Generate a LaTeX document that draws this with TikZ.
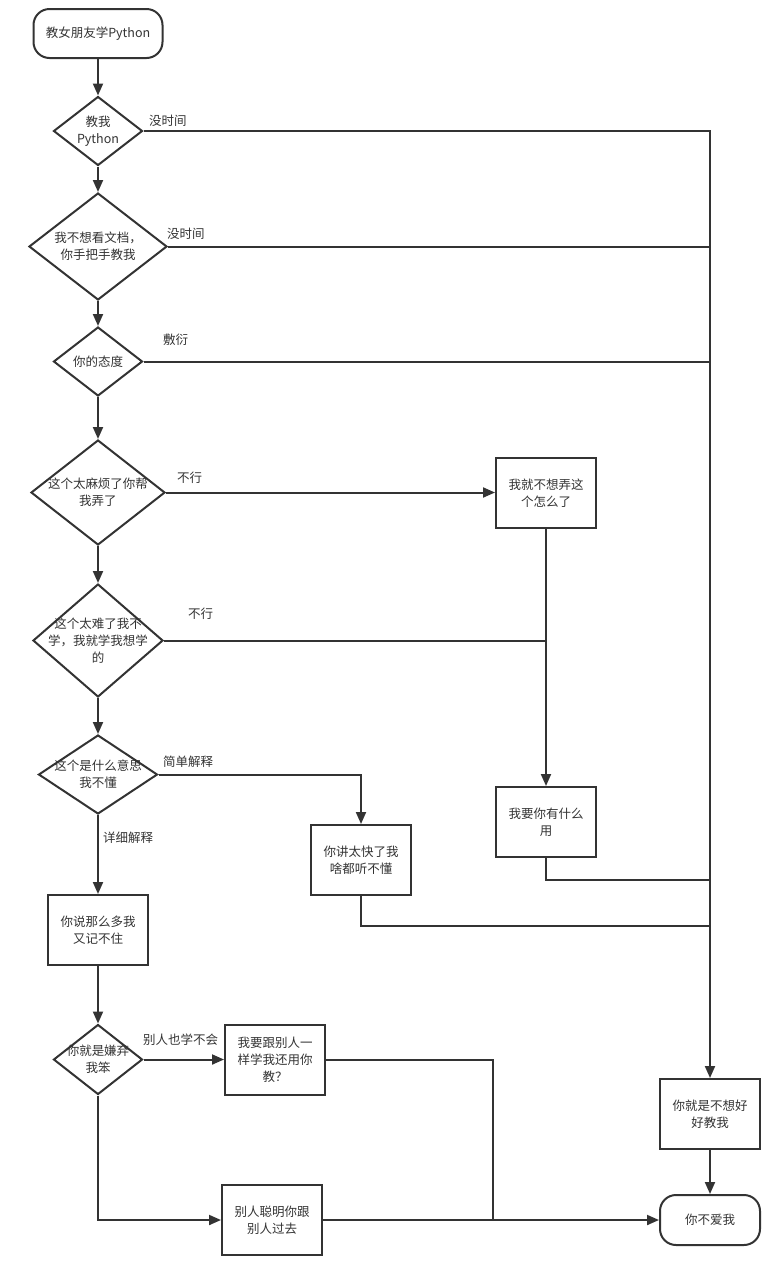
\documentclass[tikz,border=0pt]{standalone}
\usepackage{fontspec}
\setmainfont{Noto Sans CJK SC}
\usetikzlibrary{shapes.geometric,arrows.meta}
\definecolor{ink}{HTML}{333333}
\begin{document}
\begin{tikzpicture}[x=1pt,y=-1pt,
 every node/.style={font=\fontsize{12.5}{17}\selectfont, text=ink},
 box/.style={draw=ink, line width=2pt, rectangle, minimum width=100pt, minimum height=70pt, align=center, inner sep=0pt},
 term/.style={draw=ink, line width=2pt, rectangle, rounded corners=16pt, minimum width=100pt, minimum height=50pt, align=center, inner sep=0pt},
 dia/.style={draw=ink, line width=2pt, diamond, inner sep=0pt},
 txt/.style={align=center, inner sep=0pt},
 lbl/.style={anchor=west, inner sep=0pt},
 conn/.style={draw=ink, line width=2pt},
 arr/.style={conn, -{Triangle[length=12pt,width=10pt]}}
]
\useasboundingbox (0,0) rectangle (768,1270);

% nodes
\node[term, minimum width=129pt, minimum height=49pt] (start) at (98,33.5) {教女朋友学Python};
\node[dia, minimum width=89pt, minimum height=69pt] (d1) at (98,131) {};
\node[txt] at (d1) {教我\\Python};
\node[dia, minimum width=138pt, minimum height=107pt] (d2) at (98,246.5) {};
\node[txt] at (d2) {我不想看文档，\\你手把手教我};
\node[dia, minimum width=89pt, minimum height=69pt] (d3) at (98,361.5) {};
\node[txt] at (d3) {你的态度};
\node[dia, minimum width=134pt, minimum height=105pt] (d4) at (98,492.5) {};
\node[txt] at (d4) {这个太麻烦了你帮\\我弄了};
\node[dia, minimum width=130pt, minimum height=113pt] (d5) at (98,640.5) {};
\node[txt] at (d5) {这个太难了我不\\学，我就学我想学\\的};
\node[dia, minimum width=119pt, minimum height=79pt] (d6) at (98,774.5) {};
\node[txt] at (d6) {这个是什么意思\\我不懂};
\node[box] (jizhu) at (98,930) {你说那么多我\\又记不住};
\node[dia, minimum width=89pt, minimum height=70pt] (d7) at (98,1059.5) {};
\node[txt] at (d7) {你就是嫌弃\\我笨};
\node[box] (gen) at (275,1059.5) {我要跟别人一\\样学我还用你\\教？};
\node[box] (guoqu) at (272,1220) {别人聪明你跟\\别人过去};
\node[box] (kuai) at (361,860) {你讲太快了我\\啥都听不懂};
\node[box] (nong) at (546,493) {我就不想弄这\\个怎么了};
\node[box] (yong) at (546,822) {我要你有什么\\用};
\node[box] (bad) at (710,1114) {你就是不想好\\好教我};
\node[term] (end) at (710,1220) {你不爱我};

\coordinate (j1) at (710,880);
\coordinate (j2) at (710,926);
\coordinate (j3) at (493,1220);

% main chain
\draw[arr] (start) -- (d1);
\draw[arr] (d1) -- (d2);
\draw[arr] (d2) -- (d3);
\draw[arr] (d3) -- (d4);
\draw[arr] (d4) -- (d5);
\draw[arr] (d5) -- (d6);
\draw[arr] (d6) -- (jizhu);
\draw[arr] (jizhu) -- (d7);

% right trunk
\draw[arr] (d1.east) -| (bad.north);
\draw[conn] (d2.east) -- (d2.east -| bad.north);
\draw[conn] (d3.east) -- (d3.east -| bad.north);
\draw[arr] (bad) -- (end);

% middle branches
\draw[arr] (d4.east) -- (d4.east -| nong.west);
\draw[arr] (nong.south) -- (yong.north);
\draw[conn] (d5.east) -- (d5.east -| nong.south);
\draw[conn] (yong.south) |- (j1);
\draw[arr] (d6.east) -| (kuai.north);
\draw[conn] (kuai.south) |- (j2);

% bottom branches
\draw[arr] (d7.east) -- (gen.west);
\draw[arr] (d7.south) |- (guoqu.west);
\draw[conn] (gen.east) -| (j3);
\draw[arr] (guoqu.east) -- (end.west);

% labels
\node[lbl] at (149,121) {没时间};
\node[lbl] at (167,234) {没时间};
\node[lbl] at (163,340) {敷衍};
\node[lbl] at (177,478) {不行};
\node[lbl] at (188,614) {不行};
\node[lbl] at (163,762) {简单解释};
\node[lbl] at (103,838) {详细解释};
\node[lbl] at (143,1040) {别人也学不会};
\end{tikzpicture}
\end{document}
